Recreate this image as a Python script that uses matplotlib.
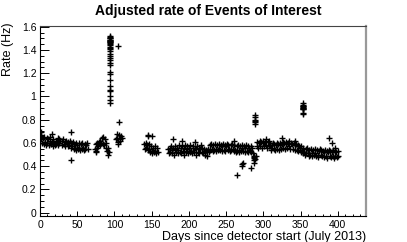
#!/usr/bin/env python3
"""Adjusted rate of Events of Interest vs days since detector start."""

import numpy as np
import matplotlib
matplotlib.use("Agg")
import matplotlib.pyplot as plt
from matplotlib.ticker import MultipleLocator, FuncFormatter


# daily rates per data-taking period: (first day, rates in Hz)
period_a_start = 0
period_a_rates = [0.66, 0.63, 0.67, 0.60, 0.64, 0.59, 0.65, 0.61, 0.58, 0.64,
                  0.60, 0.63, 0.58, 0.62, 0.65, 0.59, 0.61, 0.57, 0.63, 0.60,
                  0.58, 0.62, 0.59, 0.61, 0.58, 0.63, 0.60, 0.62]

period_b_start = 29
period_b_rates = [0.62, 0.58, 0.63, 0.59, 0.61, 0.57, 0.62, 0.60, 0.57, 0.61,
                  0.58, 0.62, 0.56, 0.60, 0.57, 0.61, 0.55, 0.59, 0.56, 0.60,
                  0.54, 0.58, 0.55, 0.60, 0.56, 0.54, 0.59, 0.55, 0.60, 0.56,
                  0.54, 0.59, 0.55, 0.58, 0.60, 0.55]

period_c_start = 74
period_c_rates = [0.55, 0.59, 0.56, 0.60, 0.57, 0.61, 0.58, 0.62, 0.60, 0.64,
                  0.59, 0.65, 0.58, 0.63, 0.56, 0.60, 0.53, 0.56, 0.50, 0.52]

period_d_start = 102
period_d_rates = [0.63, 0.68, 0.64, 0.61, 0.67, 0.63, 0.62, 0.66, 0.64]

period_e_start = 140
period_e_rates = [0.59, 0.55, 0.60, 0.56, 0.58, 0.54, 0.59, 0.55, 0.52, 0.57,
                  0.53, 0.51, 0.56, 0.52, 0.57, 0.53, 0.51, 0.56, 0.52]

period_f_start = 172
period_f_rates = [0.55, 0.51, 0.56, 0.52, 0.57, 0.51, 0.54, 0.56, 0.50, 0.55,
                  0.57, 0.52, 0.56, 0.51, 0.54, 0.58, 0.52, 0.56, 0.51, 0.57,
                  0.53, 0.50, 0.56, 0.58, 0.52, 0.55, 0.57, 0.51, 0.56, 0.52,
                  0.58, 0.53, 0.51, 0.56, 0.57, 0.52, 0.56, 0.50, 0.55, 0.57,
                  0.52, 0.56, 0.51, 0.55, 0.58, 0.52, 0.56, 0.51, 0.55, 0.52,
                  0.50, 0.54, 0.49, 0.53, 0.55, 0.52, 0.58, 0.54, 0.59, 0.55,
                  0.53, 0.58, 0.54, 0.59, 0.55, 0.53, 0.58, 0.54, 0.59, 0.55,
                  0.54, 0.58, 0.53, 0.57, 0.59, 0.54, 0.58, 0.53, 0.57, 0.59,
                  0.54, 0.58, 0.55, 0.53, 0.58, 0.54, 0.59, 0.55, 0.53, 0.58,
                  0.54, 0.52, 0.57, 0.53, 0.58, 0.54, 0.52, 0.57, 0.53, 0.56,
                  0.58, 0.53, 0.57, 0.52, 0.56, 0.58, 0.53, 0.57, 0.52, 0.56,
                  0.53, 0.57, 0.52, 0.56, 0.51, 0.49, 0.48, 0.46, 0.49]

period_g_start = 291
period_g_rates = [0.57, 0.61, 0.56, 0.60, 0.62, 0.57, 0.61, 0.56, 0.60, 0.62,
                  0.57, 0.61, 0.63, 0.58, 0.56, 0.61, 0.57, 0.62, 0.58, 0.56,
                  0.54, 0.58, 0.60, 0.55, 0.59, 0.54, 0.58, 0.60, 0.55, 0.59,
                  0.54, 0.58, 0.60, 0.55, 0.59, 0.61, 0.56, 0.60, 0.55, 0.59,
                  0.61, 0.56, 0.60, 0.62, 0.57, 0.55, 0.60]

period_h_start = 339
period_h_rates = [0.59, 0.55, 0.60, 0.54, 0.58, 0.59, 0.54, 0.58, 0.53, 0.57,
                  0.56, 0.52, 0.57, 0.53, 0.51, 0.56, 0.52, 0.50, 0.55, 0.51,
                  0.56, 0.51, 0.49, 0.54, 0.50, 0.55, 0.51, 0.49, 0.54, 0.50,
                  0.55, 0.51, 0.49, 0.54, 0.50, 0.48, 0.53, 0.55, 0.50, 0.54,
                  0.49, 0.53, 0.48, 0.52, 0.54, 0.49, 0.53, 0.47, 0.52, 0.54,
                  0.49, 0.53, 0.48, 0.52, 0.54, 0.49, 0.47, 0.53, 0.49, 0.52,
                  0.48, 0.53, 0.49]

# burst episodes (several runs on the same day)
burst_days = [93.5, 94, 93.5, 94, 94, 93.5, 94, 94.5, 94, 93.5, 94, 94, 94,
              94, 94, 94, 94, 94, 94, 94, 94, 94, 94, 94, 94, 94, 94, 94,
              94, 94, 94, 94,
              289, 289, 289, 289, 289, 289,
              353, 353, 353, 353, 353, 353, 353, 353, 353, 353, 353]
burst_rates = [1.52, 1.51, 1.50, 1.50, 1.49, 1.49, 1.48, 1.48, 1.47, 1.47,
               1.46, 1.45, 1.44, 1.43, 1.42, 1.41, 1.39, 1.37, 1.35, 1.33,
               1.31, 1.29, 1.27, 1.21, 1.19, 1.14, 1.09, 1.06, 1.05, 1.00,
               0.97, 0.94,
               0.84, 0.82, 0.80, 0.79, 0.78, 0.76,
               0.94, 0.93, 0.92, 0.915, 0.91, 0.905, 0.90, 0.895, 0.89,
               0.86, 0.85]

# isolated runs
outlier_days = [1, 16, 24, 42, 42, 75, 75, 105, 106, 105, 145, 145, 150,
                179, 191, 208, 260, 264, 272, 272, 272.5, 284, 287, 287, 288,
                325, 343, 388, 392, 397]
outlier_rates = [0.69, 0.68, 0.645, 0.69, 0.45, 0.53, 0.52, 1.435, 0.78, 0.59,
                 0.66, 0.67, 0.66, 0.635, 0.62, 0.61, 0.62, 0.326, 0.42, 0.40,
                 0.43, 0.386, 0.47, 0.43, 0.455, 0.646, 0.62, 0.646, 0.60, 0.56]

periods = [
    (period_a_start, period_a_rates),
    (period_b_start, period_b_rates),
    (period_c_start, period_c_rates),
    (period_d_start, period_d_rates),
    (period_e_start, period_e_rates),
    (period_f_start, period_f_rates),
    (period_g_start, period_g_rates),
    (period_h_start, period_h_rates),
]


def main():
    plt.rcParams["font.family"] = ["Liberation Sans", "DejaVu Sans"]

    fig = plt.figure(figsize=(4.07, 2.42), dpi=100)
    ax = fig.add_axes([0.0983, 0.107, 0.801, 0.787])

    marker_kw = dict(linestyle="none", marker="+", markersize=4.3,
                     markeredgewidth=1.0, color="black")

    for start, rates in periods:
        days = start + np.arange(len(rates))
        ax.plot(days, rates, **marker_kw)
    ax.plot(burst_days, burst_rates, **marker_kw)
    ax.plot(outlier_days, outlier_rates, **marker_kw)

    ax.set_xlim(0, 438)
    ax.set_ylim(-0.03, 1.61)

    ax.xaxis.set_major_locator(MultipleLocator(50))
    ax.xaxis.set_minor_locator(MultipleLocator(10))
    ax.yaxis.set_major_locator(MultipleLocator(0.2))
    ax.yaxis.set_minor_locator(MultipleLocator(0.05))
    ax.yaxis.set_major_formatter(
        FuncFormatter(lambda v, _: "{:g}".format(round(v, 2))))

    ax.tick_params(axis="both", which="both", direction="in", labelsize=7.5,
                   colors="black", width=0.7)
    ax.tick_params(axis="x", which="major", length=3.6, pad=3)
    ax.tick_params(axis="x", which="minor", length=1.8)
    ax.tick_params(axis="y", which="major", length=6.5, pad=2.5)
    ax.tick_params(axis="y", which="minor", length=3.2)

    ax.spines["left"].set_color("black")
    ax.spines["bottom"].set_color("black")
    ax.spines["top"].set_color("#444444")
    ax.spines["right"].set_color("#999999")
    ax.spines["right"].set_linewidth(1.6)
    for side in ("left", "bottom", "top"):
        ax.spines[side].set_linewidth(0.8)

    fig.text(0.512, 0.956, "Adjusted rate of Events of Interest",
             ha="center", va="center", fontsize=10, fontweight="bold")
    fig.text(0.899, 0.022, "Days since detector start (July 2013)",
             ha="right", va="center", fontsize=9)
    fig.text(0.02, 0.905, "Rate (Hz)", rotation=90,
             ha="center", va="top", fontsize=9)

    fig.savefig("out.png", dpi=100)


if __name__ == "__main__":
    main()
